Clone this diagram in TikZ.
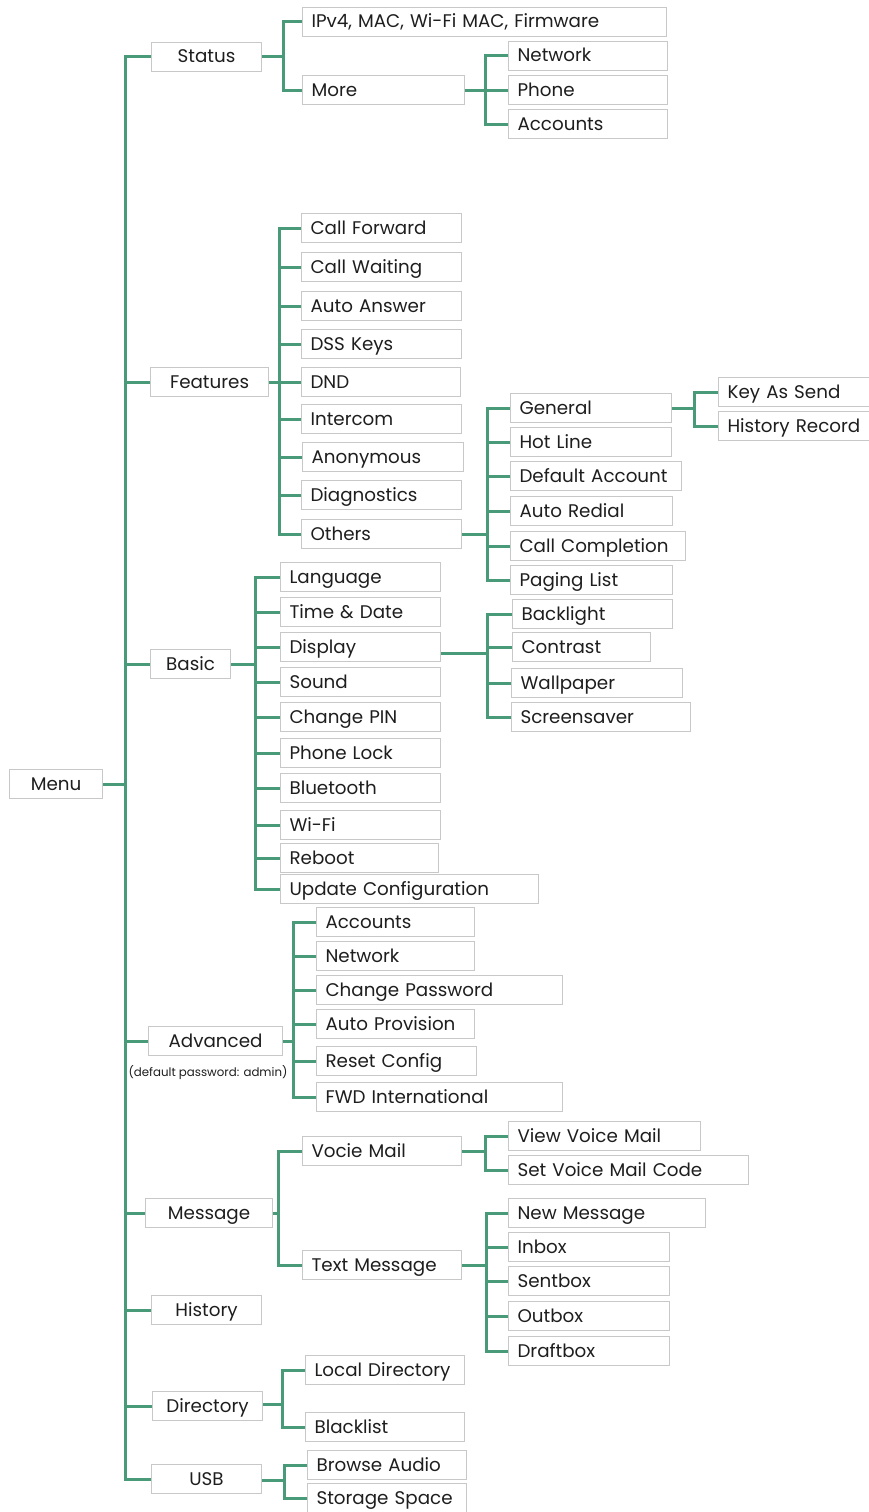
\documentclass[tikz,border=0pt]{standalone}
\usepackage{fontspec}
\setmainfont{Poppins}
\definecolor{lg}{RGB}{72,154,120}
\definecolor{bd}{RGB}{200,200,200}
\definecolor{tx}{RGB}{30,30,30}
\newcommand\TopBox[5]{\pgfmathsetmacro\bw{#3-#2}\node[topbox, minimum width=\bw pt] (#1) at (#2,#4) {#5};}
\newcommand\LeafBox[5]{\pgfmathsetmacro\bw{#3-#2}\pgfmathsetmacro\tw{#3-#2-18}\node[leafbox, minimum width=\bw pt, text width=\tw pt] (#1) at (#2,#4) {#5};}
\newcommand\Branch[3]{\foreach \c in {#3} {\draw[conn] (#1.east |- #2) -- (#2) |- (\c.west);}}
\begin{document}
\begin{tikzpicture}[x={(1pt,0pt)}, y={(0pt,-1pt)},
  basebox/.style={draw=bd, line width=1.1pt, fill=white, minimum height=29pt, inner sep=0pt, text=tx, font=\fontsize{18.3}{20}\selectfont, text height=15pt, text depth=3pt, anchor=west},
  topbox/.style={basebox, align=center},
  leafbox/.style={basebox, align=left, inner xsep=9pt},
  conn/.style={draw=lg, line width=3pt},
  note/.style={text=tx, font=\fontsize{11.8}{13}\selectfont, inner sep=0pt}]
\fill[white] (0,0) rectangle (869,1512);
\useasboundingbox (0,0) rectangle (869,1512);

% level 0/1
\TopBox{menu}{9}{102}{784}{Menu}
\TopBox{status}{151}{261}{57}{Status}
\TopBox{features}{150}{268}{382}{Features}
\TopBox{basic}{150}{230}{664}{Basic}
\TopBox{advanced}{148}{282}{1041}{Advanced}
\node[note] (advnote) at (208,1073) {(default password: admin)};
\TopBox{message}{145}{272}{1213}{Message}
\TopBox{history}{151}{261}{1310}{History}
\TopBox{directory}{152}{262}{1406}{Directory}
\TopBox{usb}{151}{261}{1479}{USB}

% Status
\LeafBox{ipv4}{302}{666}{22}{IPv4, MAC, Wi-Fi MAC, Firmware}
\LeafBox{more}{302}{464}{90}{More}
\LeafBox{network1}{508}{667}{56}{Network}
\LeafBox{phone}{508}{667}{90}{Phone}
\LeafBox{accounts1}{508}{667}{124}{Accounts}

% Features
\LeafBox{cf}{301}{461}{228}{Call Forward}
\LeafBox{cw}{301}{461}{267}{Call Waiting}
\LeafBox{aa}{301}{461}{306}{Auto Answer}
\LeafBox{dss}{301}{461}{344}{DSS Keys}
\LeafBox{dnd}{301}{460}{382}{DND}
\LeafBox{intercom}{301}{461}{419}{Intercom}
\LeafBox{anon}{302}{463}{457}{Anonymous}
\LeafBox{diag}{301}{461}{495}{Diagnostics}
\LeafBox{others}{301}{461}{534}{Others}
\LeafBox{general}{510}{671}{408}{General}
\LeafBox{hotline}{510}{671}{442}{Hot Line}
\LeafBox{defacc}{510}{681}{476}{Default Account}
\LeafBox{autoredial}{510}{672}{511}{Auto Redial}
\LeafBox{callcomp}{510}{685}{546}{Call Completion}
\LeafBox{paging}{510}{672}{580}{Paging List}
\LeafBox{keysend}{718}{872}{392}{Key As Send}
\LeafBox{histrec}{718}{872}{426}{History Record}

% Basic
\LeafBox{language}{280}{440}{577}{Language}
\LeafBox{timedate}{280}{440}{612}{Time \& Date}
\LeafBox{display}{280}{440}{647}{Display}
\LeafBox{sound}{280}{440}{682}{Sound}
\LeafBox{changepin}{280}{440}{717}{Change PIN}
\LeafBox{phonelock}{280}{440}{753}{Phone Lock}
\LeafBox{bluetooth}{280}{440}{788}{Bluetooth}
\LeafBox{wifi}{280}{440}{825}{Wi-Fi}
\LeafBox{reboot}{280}{438}{858}{Reboot}
\LeafBox{updcfg}{280}{538}{889}{Update Configuration}
\LeafBox{backlight}{512}{672}{614}{Backlight}
\LeafBox{contrast}{512}{650}{647}{Contrast}
\LeafBox{wallpaper}{511}{682}{683}{Wallpaper}
\LeafBox{screensaver}{511}{690}{717}{Screensaver}

% Advanced
\LeafBox{accounts2}{316}{474}{922}{Accounts}
\LeafBox{network2}{316}{474}{956}{Network}
\LeafBox{changepw}{316}{562}{990}{Change Password}
\LeafBox{autoprov}{316}{474}{1024}{Auto Provision}
\LeafBox{resetcfg}{316}{476}{1061}{Reset Config}
\LeafBox{fwd}{316}{562}{1097}{FWD International}

% Message
\LeafBox{vociemail}{302}{461}{1151}{Vocie Mail}
\LeafBox{textmsg}{302}{461}{1265}{Text Message}
\LeafBox{viewvm}{508}{700}{1136}{View Voice Mail}
\LeafBox{setvm}{508}{748}{1170}{Set Voice Mail Code}
\LeafBox{newmsg}{508}{705}{1213}{New Message}
\LeafBox{inbox}{508}{669}{1247}{Inbox}
\LeafBox{sentbox}{508}{669}{1281}{Sentbox}
\LeafBox{outbox}{508}{669}{1316}{Outbox}
\LeafBox{draftbox}{508}{669}{1351}{Draftbox}

% Directory, USB
\LeafBox{localdir}{305}{464}{1370}{Local Directory}
\LeafBox{blacklist}{305}{464}{1427}{Blacklist}
\LeafBox{browse}{307}{466}{1465}{Browse Audio}
\LeafBox{storage}{307}{466}{1498}{Storage Space}

% junctions
\coordinate (menuJ) at (125,784);
\coordinate (statusJ) at (283,57);
\coordinate (moreJ) at (485,90);
\coordinate (featJ) at (279,382);
\coordinate (othersJ) at (487,534);
\coordinate (generalJ) at (694,408);
\coordinate (basicJ) at (255,664);
\coordinate (dispJ) at (487,653);
\coordinate (advJ) at (293,1041);
\coordinate (msgJ) at (278,1213);
\coordinate (vmJ) at (485,1151);
\coordinate (tmJ) at (486,1265);
\coordinate (dirJ) at (282,1404);
\coordinate (usbJ) at (284,1480);

\Branch{menu}{menuJ}{status,features,basic,advanced,message,history,directory,usb}
\Branch{status}{statusJ}{ipv4,more}
\Branch{more}{moreJ}{network1,phone,accounts1}
\Branch{features}{featJ}{cf,cw,aa,dss,dnd,intercom,anon,diag,others}
\Branch{others}{othersJ}{general,hotline,defacc,autoredial,callcomp,paging}
\Branch{general}{generalJ}{keysend,histrec}
\Branch{basic}{basicJ}{language,timedate,display,sound,changepin,phonelock,bluetooth,wifi,reboot,updcfg}
\Branch{display}{dispJ}{backlight,contrast,wallpaper,screensaver}
\Branch{advanced}{advJ}{accounts2,network2,changepw,autoprov,resetcfg,fwd}
\Branch{message}{msgJ}{vociemail,textmsg}
\Branch{vociemail}{vmJ}{viewvm,setvm}
\Branch{textmsg}{tmJ}{newmsg,inbox,sentbox,outbox,draftbox}
\Branch{directory}{dirJ}{localdir,blacklist}
\Branch{usb}{usbJ}{browse,storage}
\end{tikzpicture}
\end{document}
